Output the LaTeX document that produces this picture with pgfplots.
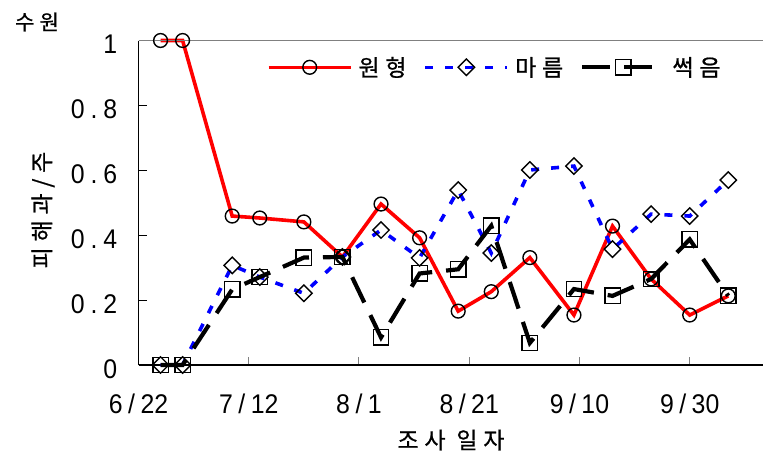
\documentclass[border=0pt]{standalone}
\usepackage{fontspec}
\usepackage{pgfplots}
\usepackage{pgfplotstable}
\pgfplotsset{compat=1.18}
\setmainfont{Noto Sans CJK KR}
\newfontfamily\kfont[LetterSpace=25, FakeBold=0.8]{Noto Sans CJK KR}
\newfontfamily\tfont[FakeStretch=0.92]{Liberation Sans}
\newcommand\sls{\hspace{5.5pt}/\hspace{5.5pt}}
\newcommand\dts{\hspace{6pt}.\hspace{6pt}}

\pgfplotstableread{
d    red    blue   black
4    1.000  0.000  0.000
8    1.000  0.000  0.000
17   0.459  0.307  0.233
22   0.453  0.271  0.271
30   0.441  0.221  0.331
37   0.333  0.333  0.333
44   0.496  0.416  0.085
51   0.392  0.330  0.282
58   0.166  0.539  0.295
64   0.226  0.345  0.429
71   0.331  0.601  0.068
79   0.154  0.613  0.234
86   0.428  0.357  0.213
93   0.265  0.465  0.265
100  0.154  0.459  0.387
107  0.213  0.570  0.213
}\datatable

\begin{document}
\begin{tikzpicture}[x=1pt,y=1pt]
\useasboundingbox (0,0) rectangle (763,459);
\begin{axis}[
  at={(138.5pt,94pt)}, anchor=south west,
  scale only axis, width=624.5pt, height=324.5pt,
  xmin=0, xmax=113.3, ymin=0, ymax=1,
  clip=false,
  axis x line*=bottom, axis y line*=left,
  axis line style={black, line width=1.2pt},
  xtick={0,20,40,60,80,100},
  xticklabels={6\sls22,7\sls12,8\sls1,8\sls21,9\sls10,9\sls30},
  ytick={0,0.2,0.4,0.6,0.8,1},
  yticklabels={0,0\dts2,0\dts4,0\dts6,0\dts8,1},
  tick align=inside,
  major tick length=8pt,
  xtick style={gray, line width=1pt},
  ytick style={black, line width=1pt},
  tick label style={font=\tfont\fontsize{27}{31}\selectfont},
  xticklabel style={anchor=center, inner sep=0pt, yshift=-39pt},
  yticklabel style={anchor=east, inner sep=0pt, xshift=-21pt, yshift=-4pt},
  legend columns=3,
  legend style={draw=none, fill=none, at={(0.2053,0.9174)}, anchor=west,
    inner sep=0pt, font=\kfont\fontsize{23}{26}\selectfont,
    nodes={inner sep=0pt},
    /tikz/every odd column/.append style={column sep=6pt},
    /tikz/every even column/.append style={column sep=17pt}},
  legend image code/.code={\draw[mark repeat=2,mark phase=2] plot coordinates {(0pt,0pt) (41pt,0pt) (82pt,0pt)};},
]
\addplot[red, line width=3.6pt, mark=o, mark size=6.9pt,
  mark options={black, line width=1.4pt, solid}] table[x=d, y=red] {\datatable};
\addlegendentry{원형}
\addplot[blue, line width=3.6pt, dash pattern=on 8pt off 12pt, mark=square, mark size=5.8pt,
  mark options={black, line width=1.4pt, solid, rotate=45}] table[x=d, y=blue] {\datatable};
\addlegendentry{마름}
\addplot[black, line width=4.2pt, dash pattern=on 28pt off 14pt, mark=square, mark size=7.7pt,
  mark options={black, line width=1.4pt, solid}] table[x=d, y=black] {\datatable};
\addlegendentry{썩음}
\draw[gray, line width=1pt] (rel axis cs:0,1) -- (rel axis cs:1,1);
\end{axis}
\node[font=\kfont\fontsize{21}{24}\selectfont] at (37,437) {수원};
\node[font=\kfont\fontsize{23}{26}\selectfont, rotate=90] at (43,249) {피해과/주};
\node[font=\kfont\fontsize{23}{26}\selectfont] at (451,19) {조사 일자};
\end{tikzpicture}
\end{document}
